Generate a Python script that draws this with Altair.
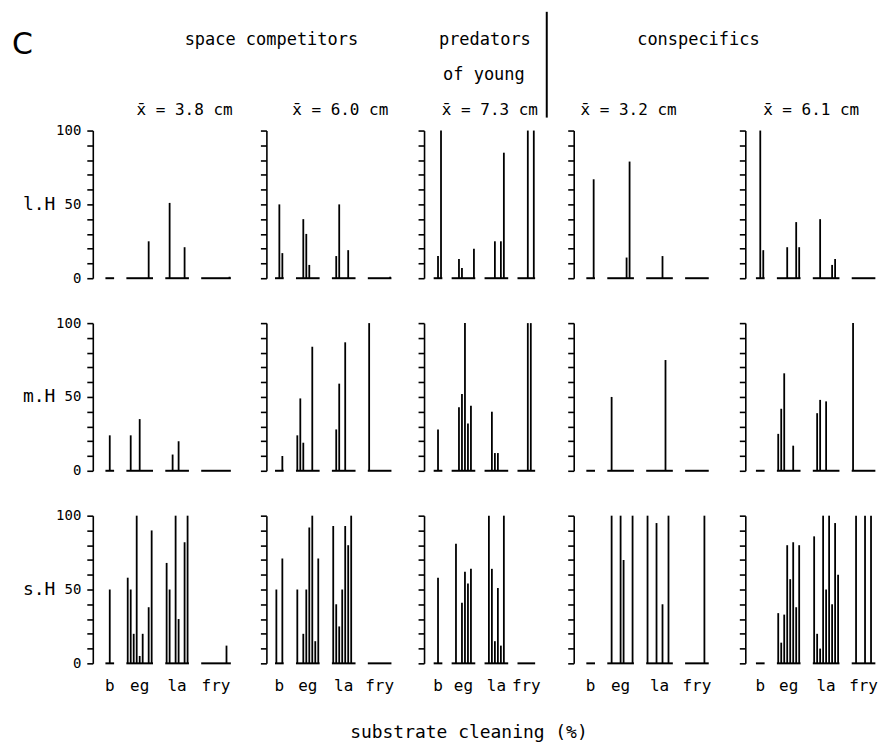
import altair as alt
import pandas as pd

GROUPS = ["b", "eg", "la", "fry"]
HABITATS = ["l.H", "m.H", "s.H"]
MEAN_SIZES = ["x̄ = 3.8 cm", "x̄ = 6.0 cm", "x̄ = 7.3 cm", "x̄ = 3.2 cm", "x̄ = 6.1 cm"]
Y_TICKS = [0, 10, 20, 30, 40, 50, 60, 70, 80, 90, 100]

# substrate cleaning (%) per observation slot, large habitat (l.H)
lH_38 = {"b": [0, 0, 0], "eg": [0, 0, 0, 0, 0, 0, 0, 25, 0], "la": [0, 51, 0, 0, 0, 0, 21, 0], "fry": [0, 0, 0, 0, 0, 0, 0, 0, 0, 1]}
lH_60 = {"b": [0, 50, 17], "eg": [0, 0, 40, 30, 9, 0, 0, 0], "la": [0, 15, 50, 0, 0, 19, 0, 0], "fry": [0, 0, 0, 0, 0, 0, 0, 1]}
lH_73 = {"b": [0, 15, 100], "eg": [0, 0, 13, 7, 0, 0, 0, 20], "la": [0, 0, 0, 25, 0, 25, 85, 0], "fry": [0, 0, 0, 100, 0, 100]}
lH_32 = {"b": [0, 0, 67], "eg": [0, 0, 0, 0, 0, 0, 14, 79, 0], "la": [0, 0, 0, 0, 0, 15, 0, 0, 0], "fry": [0, 0, 0, 0, 0, 0, 0, 0]}
lH_61 = {"b": [0, 100, 19], "eg": [0, 0, 0, 21, 0, 0, 38, 21], "la": [0, 0, 40, 0, 0, 0, 9, 13, 0], "fry": [0, 0, 0, 0, 0, 0, 0, 0]}

# medium habitat (m.H)
mH_38 = {"b": [0, 24, 0], "eg": [0, 24, 0, 0, 35, 0, 0, 0, 0], "la": [0, 0, 11, 0, 20, 0, 0, 0], "fry": [0, 0, 0, 0, 0, 0, 0, 0, 0, 0]}
mH_60 = {"b": [0, 0, 10], "eg": [24, 49, 19, 0, 0, 84, 0, 0], "la": [0, 28, 59, 0, 87, 0, 0, 0], "fry": [100, 0, 0, 0, 0, 0, 0, 0]}
mH_73 = {"b": [0, 28, 0], "eg": [0, 0, 43, 52, 100, 32, 44, 0], "la": [0, 0, 40, 12, 12, 0, 0, 0], "fry": [0, 0, 0, 100, 100, 0]}
mH_32 = {"b": [0, 0, 0], "eg": [0, 50, 0, 0, 0, 0, 0, 0, 0], "la": [0, 0, 0, 0, 0, 0, 75, 0, 0], "fry": [0, 0, 0, 0, 0, 0, 0, 0]}
mH_61 = {"b": [0, 0, 0], "eg": [25, 42, 66, 0, 0, 17, 0, 0], "la": [0, 39, 48, 0, 47, 0, 0, 0, 0], "fry": [100, 0, 0, 0, 0, 0, 0, 0]}

# small habitat (s.H)
sH_38 = {"b": [0, 50, 0], "eg": [58, 50, 20, 100, 5, 20, 0, 38, 90], "la": [68, 50, 0, 100, 30, 0, 82, 100], "fry": [0, 0, 0, 0, 0, 0, 0, 0, 12, 0]}
sH_60 = {"b": [50, 0, 71], "eg": [50, 0, 20, 50, 92, 100, 15, 71], "la": [93, 40, 25, 50, 93, 80, 100, 0], "fry": [0, 0, 0, 0, 0, 0, 0, 0]}
sH_73 = {"b": [0, 58, 0], "eg": [0, 81, 0, 41, 62, 54, 64, 0], "la": [0, 100, 64, 15, 51, 12, 100, 0], "fry": [0, 0, 0, 0, 0, 0]}
sH_32 = {"b": [0, 0, 0], "eg": [0, 100, 0, 0, 100, 70, 0, 0, 100], "la": [100, 0, 0, 95, 0, 40, 0, 100, 0], "fry": [0, 0, 0, 0, 0, 0, 100, 0]}
sH_61 = {"b": [0, 0, 0], "eg": [34, 14, 33, 80, 57, 82, 38, 80], "la": [86, 20, 10, 100, 50, 100, 40, 95, 60], "fry": [0, 100, 0, 0, 100, 0, 100, 0]}

PANELS = [
    [lH_38, lH_60, lH_73, lH_32, lH_61],
    [mH_38, mH_60, mH_73, mH_32, mH_61],
    [sH_38, sH_60, sH_73, sH_32, sH_61],
]

# ---- layout (not data) ----
UNIT = 3.0                       # px per observation slot
LEAD = [4.67, 3.33, 3.67, 4.67, 4.0]
STEP = [5, 5, 4, 5, 5]           # slots from last slot of a group to first of next
WIDTHS = [154, 138, 130, 152, 130]
H = 148
HSP = 20
VSP = 45
MONO = "DejaVu Sans Mono"

spikes, bases, centers = [], [], []
for c in range(5):
    counts = {g: max(len(PANELS[r][c][g]) for r in range(3)) for g in GROUPS}
    start = LEAD[c]
    for g in GROUPS:
        centers.append({"col": c, "g": g, "cx": start + (counts[g] - 1) / 2})
        for r in range(3):
            vals = PANELS[r][c][g]
            bases.append({"row": r, "col": c, "x0": start - 0.45, "x1": start + len(vals) - 1 + 0.45})
            for i, v in enumerate(vals):
                if v > 0:
                    spikes.append({"row": r, "col": c, "x": start + i, "v": v})
        start += counts[g] - 1 + STEP[c]

spike_df = pd.DataFrame(spikes)
base_df = pd.DataFrame(bases)
center_df = pd.DataFrame(centers)
ONE = pd.DataFrame({"k": [0]})


def note(text, x, y, size, font=MONO, align="center"):
    return alt.Chart(ONE).mark_text(
        text=text, fontSize=size, font=font, align=align, baseline="middle", color="black"
    ).encode(x=alt.value(x), y=alt.value(y))


def panel(r, c):
    w = WIDTHS[c]
    xs = alt.Scale(domain=[0, w / UNIT], nice=False, zero=False)
    ys = alt.Scale(domain=[0, 100], nice=False)
    common = dict(values=Y_TICKS, tickSize=6, tickWidth=1.6, domainWidth=1.6,
                  domainColor="black", tickColor="black", grid=False)
    if c == 0:
        yaxis = alt.Axis(labelExpr="datum.value % 50 === 0 ? datum.label : ''",
                         labelOverlap=False, labelFlush=False, labelPadding=6,
                         labelFontSize=14, labelFont=MONO, labelColor="black",
                         title=HABITATS[r], titleAngle=0, titleX=-38, titleY=H / 2,
                         titleAlign="right", titleBaseline="middle", titleFontSize=18,
                         titleFont=MONO, titleFontWeight="normal", titleColor="black",
                         **common)
    else:
        yaxis = alt.Axis(labels=False, title=None, **common)

    sp = alt.Chart(spike_df).transform_filter(
        (alt.datum.row == r) & (alt.datum.col == c)
    ).transform_calculate(zero="0").mark_rule(color="black", strokeWidth=1.8).encode(
        x=alt.X("x:Q", scale=xs, axis=None),
        y=alt.Y("v:Q", scale=ys, axis=yaxis),
        y2="zero:Q",
    )
    bl = alt.Chart(base_df).transform_filter(
        (alt.datum.row == r) & (alt.datum.col == c)
    ).transform_calculate(zero="0").mark_rule(color="black", strokeWidth=2).encode(
        x=alt.X("x0:Q", scale=xs, axis=None),
        x2="x1:Q",
        y=alt.Y("zero:Q", scale=ys, axis=yaxis),
    )
    layers = [sp, bl]
    if r == 0:
        layers.append(note(MEAN_SIZES[c], [92, 74, 66, 55, 66][c], -21, 16))
        if c == 0:
            layers.append(note("C", -81, -86, 30, font="DejaVu Sans", align="left"))
            layers.append(note("space competitors", 179, -91, 17))
        if c == 2:
            layers.append(note("predators", 61, -91, 17))
            layers.append(note("of young", 60, -56, 17))
            layers.append(alt.Chart(ONE).mark_rule(color="black", strokeWidth=2).encode(
                x=alt.value(123), y=alt.value(-119), y2=alt.value(-13)))
        if c == 3:
            layers.append(note("conspecifics", 125, -91, 17))
    if r == 2:
        layers.append(alt.Chart(center_df).transform_filter(alt.datum.col == c).mark_text(
            fontSize=16, font=MONO, baseline="middle", color="black").encode(
            x=alt.X("cx:Q", scale=xs, axis=None), y=alt.value(H + 23), text="g:N"))
        if c == 2:
            layers.append(note("substrate cleaning (%)", 45, H + 70, 18))
    return alt.layer(*layers).properties(width=w, height=H)


panels = [panel(r, c) for r in range(3) for c in range(5)]
chart = alt.concat(
    *panels, columns=5, spacing={"row": VSP, "column": HSP}, bounds="flush", align="each"
).properties(
    padding={"left": 12, "top": 10, "right": 2, "bottom": 2}
).configure_view(strokeWidth=0)

chart.save("out.html", embed_options={"renderer": "svg", "actions": False})
